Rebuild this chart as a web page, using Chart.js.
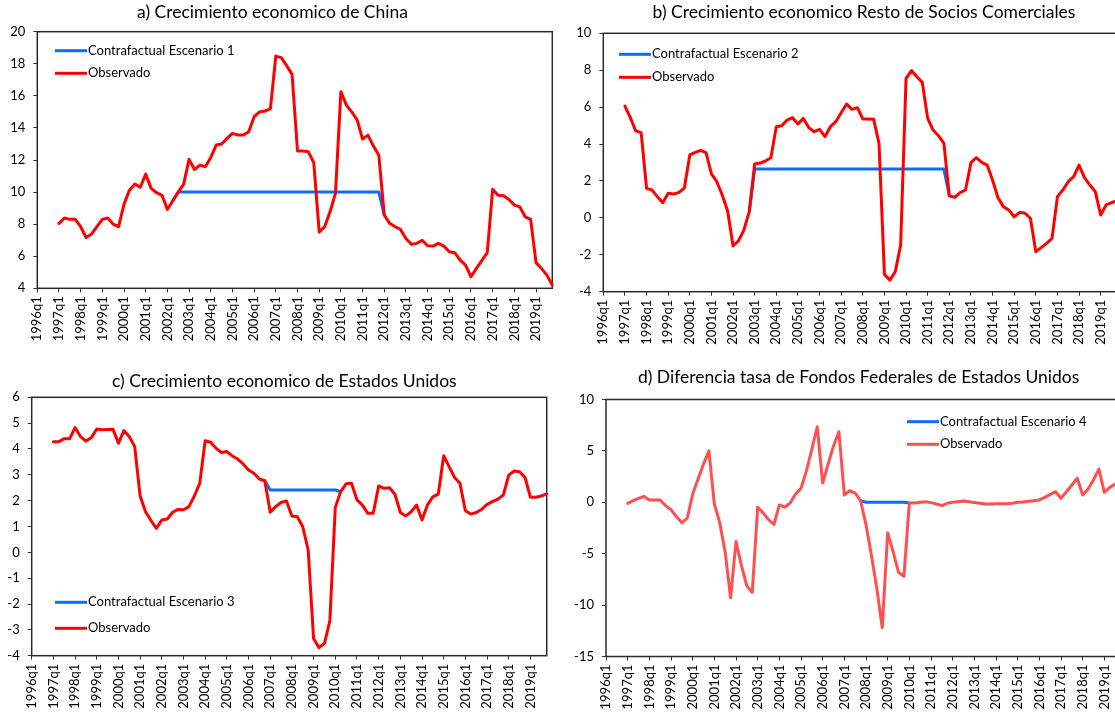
<!DOCTYPE html>
<html>
<head>
<meta charset="utf-8">
<script src="https://cdn.jsdelivr.net/npm/chart.js@4.4.1/dist/chart.umd.min.js"></script>
<style>
  html, body { margin: 0; padding: 0; background: #fff; overflow: hidden; width: 1115px; height: 712px; }
  canvas { position: absolute; }
</style>
</head>
<body>
<canvas id="chartA" width="560" height="350" style="left:0;top:0;width:560px;height:350px"></canvas>
<canvas id="chartB" width="560" height="350" style="left:566px;top:0;width:560px;height:350px"></canvas>
<canvas id="chartC" width="560" height="352" style="left:0;top:360px;width:560px;height:352px"></canvas>
<canvas id="chartD" width="560" height="352" style="left:566px;top:360px;width:560px;height:352px"></canvas>
<script>
// quarterly categories 1996q1 .. 2019q4
const years = [1996, 1997, 1998, 1999, 2000, 2001, 2002, 2003, 2004, 2005, 2006, 2007,
               2008, 2009, 2010, 2011, 2012, 2013, 2014, 2015, 2016, 2017, 2018, 2019];
const quarters = [];
years.forEach(y => { for (let q = 1; q <= 4; q++) quarters.push(y + 'q' + q); });

// a) China
const chinaObs = [null, null, null, null,
  8.05, 8.38, 8.3, 8.3, 7.84, 7.17, 7.38, 7.84,
  8.3, 8.38, 8.0, 7.84, 9.25, 10.12, 10.5, 10.3,
  11.12, 10.23, 9.96, 9.8, 8.92, 9.46, 10.0, 10.5,
  12.04, 11.41, 11.68, 11.58, 12.16, 12.93, 13.0, 13.35,
  13.66, 13.56, 13.56, 13.76, 14.7, 15.0, 15.05, 15.2,
  18.48, 18.38, 17.88, 17.34, 12.56, 12.56, 12.52, 11.83,
  7.5, 7.84, 8.77, 9.92, 16.26, 15.43, 15.0, 14.5,
  13.3, 13.55, 12.87, 12.3, 8.57, 8.05, 7.84, 7.67,
  7.11, 6.74, 6.8, 7.0, 6.65, 6.63, 6.8, 6.63,
  6.28, 6.22, 5.76, 5.45, 4.72, 5.24, 5.72, 6.22,
  10.17, 9.8, 9.77, 9.54, 9.19, 9.08, 8.46, 8.3,
  5.6, 5.24, 4.82, 4.2];
const chinaCf = [
  null, null, null, null, null, null, null, null,
  null, null, null, null, null, null, null, null,
  null, null, null, null, null, null, null, null,
  null, 9.46, 10, 10, 10, 10, 10, 10,
  10, 10, 10, 10, 10, 10, 10, 10,
  10, 10, 10, 10, 10, 10, 10, 10,
  10, 10, 10, 10, 10, 10, 10, 10,
  10, 10, 10, 10, 10, 10, 10, 10,
  8.57, null, null, null, null, null, null, null,
  null, null, null, null, null, null, null, null,
  null, null, null, null, null, null, null, null,
  null, null, null, null, null, null, null, null];

// b) Resto de socios comerciales
const sociosObs = [null, null, null, null,
  6.06, 5.43, 4.71, 4.62, 1.6, 1.51, 1.15, 0.82,
  1.33, 1.29, 1.38, 1.63, 3.41, 3.55, 3.66, 3.53,
  2.38, 1.96, 1.24, 0.37, -1.52, -1.25, -0.66, 0.34,
  2.92, 2.97, 3.08, 3.26, 4.94, 4.99, 5.3, 5.43,
  5.09, 5.39, 4.89, 4.67, 4.8, 4.4, 4.94, 5.21,
  5.7, 6.17, 5.88, 5.97, 5.36, 5.36, 5.34, 4.04,
  -3.06, -3.37, -2.92, -1.47, 7.56, 7.98, 7.65, 7.34,
  5.39, 4.76, 4.45, 4.04, 1.2, 1.11, 1.37, 1.51,
  2.99, 3.26, 3.01, 2.86, 2.05, 1.09, 0.61, 0.43,
  0.06, 0.3, 0.25, -0.02, -1.83, -1.61, -1.38, -1.11,
  1.15, 1.51, 1.96, 2.23, 2.86, 2.18, 1.78, 1.42,
  0.16, 0.7, 0.82, 0.93];
const sociosCf = [
  null, null, null, null, null, null, null, null,
  null, null, null, null, null, null, null, null,
  null, null, null, null, null, null, null, null,
  null, null, null, 0.34, 2.65, 2.65, 2.65, 2.65,
  2.65, 2.65, 2.65, 2.65, 2.65, 2.65, 2.65, 2.65,
  2.65, 2.65, 2.65, 2.65, 2.65, 2.65, 2.65, 2.65,
  2.65, 2.65, 2.65, 2.65, 2.65, 2.65, 2.65, 2.65,
  2.65, 2.65, 2.65, 2.65, 2.65, 2.65, 2.65, 2.65,
  1.2, null, null, null, null, null, null, null,
  null, null, null, null, null, null, null, null,
  null, null, null, null, null, null, null, null,
  null, null, null, null, null, null, null, null];

// c) Estados Unidos
const usaObs = [null, null, null, null,
  4.28, 4.28, 4.4, 4.4, 4.83, 4.48, 4.31, 4.44,
  4.77, 4.74, 4.75, 4.76, 4.22, 4.71, 4.48, 4.09,
  2.18, 1.57, 1.23, 0.93, 1.25, 1.29, 1.55, 1.66,
  1.65, 1.77, 2.18, 2.67, 4.32, 4.26, 4.03, 3.86,
  3.9, 3.73, 3.61, 3.42, 3.19, 3.06, 2.84, 2.77,
  1.55, 1.77, 1.93, 1.99, 1.41, 1.38, 0.99, 0.09,
  -3.33, -3.69, -3.52, -2.65, 1.74, 2.35, 2.65, 2.67,
  2.03, 1.83, 1.51, 1.51, 2.57, 2.48, 2.5, 2.25,
  1.54, 1.41, 1.57, 1.83, 1.25, 1.83, 2.15, 2.25,
  3.74, 3.32, 2.9, 2.67, 1.61, 1.48, 1.54, 1.66,
  1.86, 1.96, 2.06, 2.22, 2.99, 3.15, 3.12, 2.9,
  2.13, 2.13, 2.18, 2.26];
const usaCf = [
  null, null, null, null, null, null, null, null,
  null, null, null, null, null, null, null, null,
  null, null, null, null, null, null, null, null,
  null, null, null, null, null, null, null, null,
  null, null, null, null, null, null, null, null,
  null, null, null, 2.77, 2.41, 2.41, 2.41, 2.41,
  2.41, 2.41, 2.41, 2.41, 2.41, 2.41, 2.41, 2.41,
  2.41, 2.35, null, null, null, null, null, null,
  null, null, null, null, null, null, null, null,
  null, null, null, null, null, null, null, null,
  null, null, null, null, null, null, null, null,
  null, null, null, null, null, null, null, null];

// d) Diferencia tasa de Fondos Federales
const fedObs = [null, null, null, null,
  -0.1, 0.16, 0.39, 0.58, 0.23, 0.23, 0.23, -0.32,
  -0.71, -1.39, -2.0, -1.55, 0.81, 2.26, 3.71, 5.0,
  -0.16, -2.0, -4.84, -9.29, -3.81, -6.13, -8.13, -8.77,
  -0.48, -1.03, -1.68, -2.16, -0.26, -0.48, -0.06, 0.81,
  1.35, 3.06, 5.16, 7.35, 1.87, 3.71, 5.48, 6.87,
  0.71, 1.13, 0.9, 0.16, -2.19, -5.16, -8.39, -12.2,
  -2.97, -4.8, -6.8, -7.2, -0.06, -0.06, 0, 0.06,
  -0.03, -0.16, -0.32, -0.1, 0, 0.06, 0.13, 0.06,
  -0.03, -0.1, -0.16, -0.16, -0.13, -0.13, -0.13, -0.1,
  0, 0.03, 0.1, 0.16, 0.23, 0.48, 0.77, 1.03,
  0.39, 1.03, 1.68, 2.35, 0.71, 1.29, 2.19, 3.23,
  0.97, 1.45, 1.77, 1.6];
const fedCf = [
  null, null, null, null, null, null, null, null,
  null, null, null, null, null, null, null, null,
  null, null, null, null, null, null, null, null,
  null, null, null, null, null, null, null, null,
  null, null, null, null, null, null, null, null,
  null, null, null, null, null, null, null, 0.16,
  0, 0, 0, 0, 0, 0, 0, 0,
  -0.06, null, null, null, null, null, null, null,
  null, null, null, null, null, null, null, null,
  null, null, null, null, null, null, null, null,
  null, null, null, null, null, null, null, null,
  null, null, null, null, null, null, null, null];

const BLUE = '#0a6dff';
const FONT = 'Lato';

// frame around the plot area, title and in-plot legend
const panelDeco = {
  id: 'panelDeco',
  beforeDatasetsDraw(chart) {
    const { ctx, chartArea: a } = chart;
    ctx.save();
    ctx.strokeStyle = '#2b2b2b';
    ctx.lineWidth = 1.5;
    ctx.strokeRect(a.left, a.top, a.right - a.left, a.bottom - a.top);
    ctx.restore();
  },
  afterDraw(chart, args, opts) {
    const ctx = chart.ctx;
    ctx.save();
    ctx.fillStyle = '#000';
    ctx.textBaseline = 'middle';
    ctx.textAlign = 'center';
    ctx.font = '17.5px ' + FONT;
    ctx.fillText(opts.title, opts.titleX, opts.titleY);
    ctx.textAlign = 'left';
    ctx.font = '13px ' + FONT;
    chart.data.datasets.forEach((ds, k) => {
      const y = opts.legendY + k * opts.legendGap;
      ctx.strokeStyle = ds.borderColor;
      ctx.lineWidth = 3;
      ctx.beginPath();
      ctx.moveTo(opts.legendX, y);
      ctx.lineTo(opts.legendX + 32, y);
      ctx.stroke();
      ctx.fillText(ds.label, opts.legendX + 33, y);
    });
    ctx.restore();
  }
};

function makePanel(id, p) {
  const line = { borderWidth: 3, pointRadius: 0, tension: 0, fill: false,
                 borderJoinStyle: 'round', borderCapStyle: 'round' };
  return new Chart(document.getElementById(id), {
    type: 'line',
    data: {
      labels: quarters,
      datasets: [
        Object.assign({ label: p.cfLabel, data: p.cf, borderColor: BLUE, order: 1 }, line),
        Object.assign({ label: 'Observado', data: p.obs, borderColor: p.obsColor, order: 0 }, line)
      ]
    },
    options: {
      responsive: false,
      animation: false,
      events: [],
      layout: { padding: p.padding },
      plugins: { legend: { display: false }, tooltip: { enabled: false }, panelDeco: p.deco },
      scales: {
        x: {
          ticks: {
            autoSkip: false, minRotation: 90, maxRotation: 90, padding: 4,
            color: '#000', font: { family: FONT, size: 13 },
            callback: function (v, i) { return i % 4 === 0 ? this.getLabelForValue(v) : null; }
          },
          grid: { drawOnChartArea: false, tickLength: 4, color: '#333' },
          border: { display: false },
          afterFit: s => { s.height = 55; }
        },
        y: {
          min: p.min, max: p.max,
          ticks: { stepSize: p.step, padding: 8, color: '#000', font: { family: FONT, size: 13 } },
          grid: { drawOnChartArea: false, tickLength: 4, color: '#333' },
          border: { display: false },
          afterFit: s => { s.width = p.axisW; }
        }
      }
    },
    plugins: [panelDeco]
  });
}

makePanel('chartA', {
  cf: chinaCf, obs: chinaObs, cfLabel: 'Contrafactual Escenario 1', obsColor: '#ff0000',
  min: 4, max: 20, step: 2, axisW: 37.3,
  padding: { left: 0, top: 31.7, right: 7.7, bottom: 6.7 },
  deco: { title: 'a) Crecimiento economico de China', titleX: 272.5, titleY: 12.5,
          legendX: 55, legendY: 50.7, legendGap: 22.6 }
});

makePanel('chartB', {
  cf: sociosCf, obs: sociosObs, cfLabel: 'Contrafactual Escenario 2', obsColor: '#ff0000',
  min: -4, max: 10, step: 2, axisW: 37.3,
  padding: { left: 0, top: 33.3, right: 9.1, bottom: 3.3 },
  deco: { title: 'b) Crecimiento economico Resto de Socios Comerciales', titleX: 298, titleY: 12.5,
          legendX: 53, legendY: 54.3, legendGap: 23 }
});

makePanel('chartC', {
  cf: usaCf, obs: usaObs, cfLabel: 'Contrafactual Escenario 3', obsColor: '#ff0000',
  min: -4, max: 6, step: 1, axisW: 31.7,
  padding: { left: 0, top: 37.3, right: 13.3, bottom: 1.3 },
  deco: { title: 'c) Crecimiento economico de Estados Unidos', titleX: 284.3, titleY: 21,
          legendX: 55, legendY: 242.3, legendGap: 26 }
});

makePanel('chartD', {
  cf: fedCf, obs: fedObs, cfLabel: 'Contrafactual Escenario 4', obsColor: '#ff4f4f',
  min: -15, max: 10, step: 5, axisW: 40,
  padding: { left: 0, top: 39.5, right: 5.4, bottom: 0.5 },
  deco: { title: 'd) Diferencia tasa de Fondos Federales de Estados Unidos', titleX: 292.6, titleY: 17,
          legendX: 341, legendY: 61.7, legendGap: 22.6 }
});
</script>
</body>
</html>
